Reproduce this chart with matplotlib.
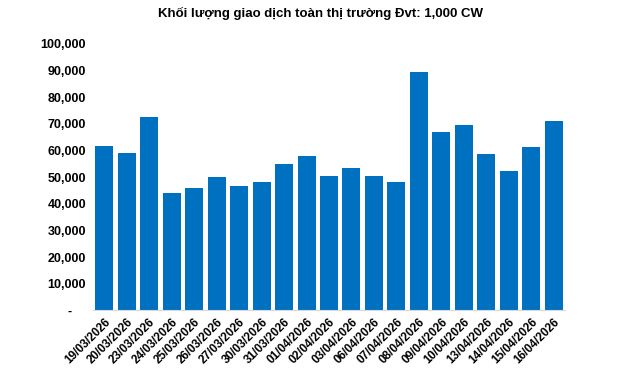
import matplotlib.pyplot as plt
from matplotlib.ticker import FuncFormatter

plt.rcParams['font.family'] = ['Liberation Sans', 'DejaVu Sans']

dates = ['19/03/2026', '20/03/2026', '23/03/2026', '24/03/2026', '25/03/2026',
         '26/03/2026', '27/03/2026', '30/03/2026', '31/03/2026', '01/04/2026',
         '02/04/2026', '03/04/2026', '06/04/2026', '07/04/2026', '08/04/2026',
         '09/04/2026', '10/04/2026', '13/04/2026', '14/04/2026', '15/04/2026',
         '16/04/2026']
volume = [61600, 59000, 72500, 44000, 45900, 50000, 46600, 48100, 54900, 57900,
          50400, 53400, 50400, 48100, 89300, 66900, 69500, 58600, 52200, 61200,
          71000]

fig = plt.figure(figsize=(6.4, 3.74), dpi=100)
ax = fig.add_axes([0.1453, 0.1698, 0.7375, 0.7126])

x = range(len(dates))
ax.bar(x, volume, width=0.8, color='#0070C0')

ax.set_xlim(-0.5, len(dates) - 0.5)
ax.set_ylim(0, 100000)
ax.set_yticks(range(0, 100001, 10000))
# Excel-style accounting format: zero shown as a dash set in from the right
ax.yaxis.set_major_formatter(FuncFormatter(lambda v, p: '-    ' if v == 0 else f'{int(v):,}'))
ax.set_xticks(list(x))
ax.set_xticklabels(dates, rotation=45, ha='right', rotation_mode='anchor')

for s in ['top', 'right', 'left']:
    ax.spines[s].set_visible(False)
ax.spines['bottom'].set_color('#D9D9D9')
ax.tick_params(axis='y', length=0, pad=5, labelsize=9)
ax.tick_params(axis='x', length=0, pad=4, labelsize=8.5)
for lbl in ax.get_xticklabels() + ax.get_yticklabels():
    lbl.set_fontweight('bold')

fig.text(0.5, 0.965, 'Khối lượng giao dịch toàn thị trường Đvt: 1,000 CW',
         ha='center', va='center', fontsize=9.5, fontweight='bold')

fig.savefig('out.png', dpi=100)
